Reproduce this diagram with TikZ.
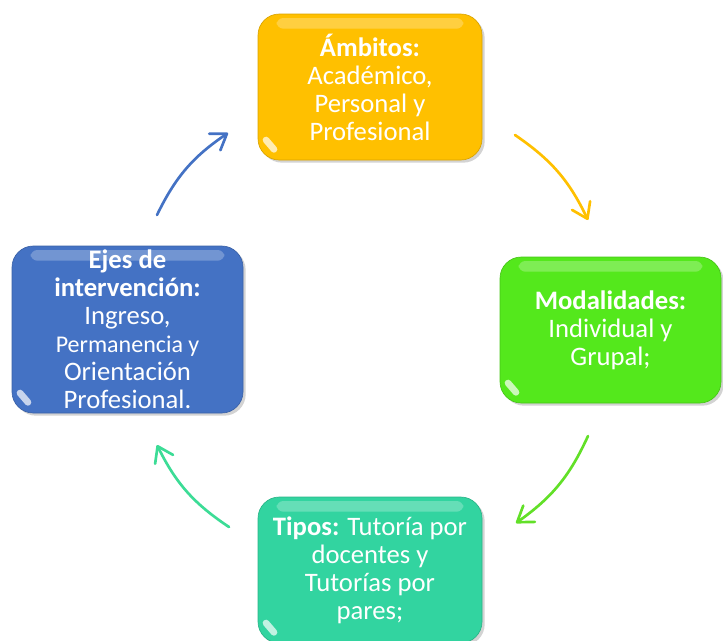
\documentclass[tikz,border=0pt]{standalone}
\usepackage{fontspec}
\setmainfont{Carlito}
\usetikzlibrary{arrows.meta,shadows}

\definecolor{ambitos}{RGB}{255,192,0}
\definecolor{modal}{RGB}{84,232,28}
\definecolor{tipos}{RGB}{50,212,160}
\definecolor{ejes}{RGB}{68,114,196}
\definecolor{modalarrow}{RGB}{98,224,40}
\definecolor{tiposarrow}{RGB}{60,220,150}

\tikzset{
  caja/.style={rounded corners=16pt, inner sep=0pt, text=white, align=center,
    font=\fontsize{20}{21}\selectfont,
    fill=#1, draw=#1!85!black, line width=0.5pt,
    drop shadow={shadow xshift=2pt, shadow yshift=-2pt, opacity=.35},
    path picture={
      \fill[white, opacity=.25, rounded corners=5pt]
        ([xshift=14pt,yshift=-3pt]path picture bounding box.north west) rectangle
        ([xshift=-14pt,yshift=-11pt]path picture bounding box.north east);
      \draw[white, opacity=.7, line width=5pt, line cap=round]
        ([xshift=6pt,yshift=15pt]path picture bounding box.south west) --
        ([xshift=12pt,yshift=8pt]path picture bounding box.south west);
    }},
  flecha/.style={line width=2pt, line cap=round, draw=#1,
    -{Straight Barb[length=11pt,width=15pt,line cap=round,line join=round]}},
}

\begin{document}
\begin{tikzpicture}[x=0.75pt,y=-0.75pt]
\useasboundingbox (0,0) rectangle (723,640);

% Boxes
\node[caja=ambitos, minimum width=168pt, minimum height=109.5pt] (amb) at (370,87)
  {\textbf{Ámbitos:}\\Académico,\\Personal y\\Profesional};
\node[caja=modal, minimum width=165.75pt, minimum height=109.5pt] (mod) at (610.5,330)
  {\textbf{Modalidades:}\\Individual y\\Grupal;};
\node[caja=tipos, minimum width=168pt, minimum height=109.5pt] (tip) at (370,570)
  {\textbf{Tipos:} Tutoría por\\docentes y\\Tutorías por\\pares;};
\node[caja=ejes, minimum width=173.25pt, minimum height=125.25pt] (eje) at (127.5,329.5)
  {\textbf{Ejes de}\\\textbf{intervención:}\\Ingreso,\\{\fontsize{18}{21}\selectfont Permanencia y}\\Orientación\\Profesional.};

% Arrow ends
\coordinate (e1) at (157,215);
\coordinate (a1) at (228,133);
\coordinate (e2) at (515,135);
\coordinate (a2) at (588,220);
\coordinate (e3) at (588,436);
\coordinate (a3) at (516,523);
\coordinate (e4) at (229,527);
\coordinate (a4) at (157,445);

% Arrows
\draw[flecha=ejes] (e1) to[bend left=15] (a1);
\draw[flecha=ambitos] (e2) to[bend left=15] (a2);
\draw[flecha=modalarrow] (e3) to[bend left=15] (a3);
\draw[flecha=tiposarrow] (e4) to[bend left=15] (a4);

\end{tikzpicture}
\end{document}
